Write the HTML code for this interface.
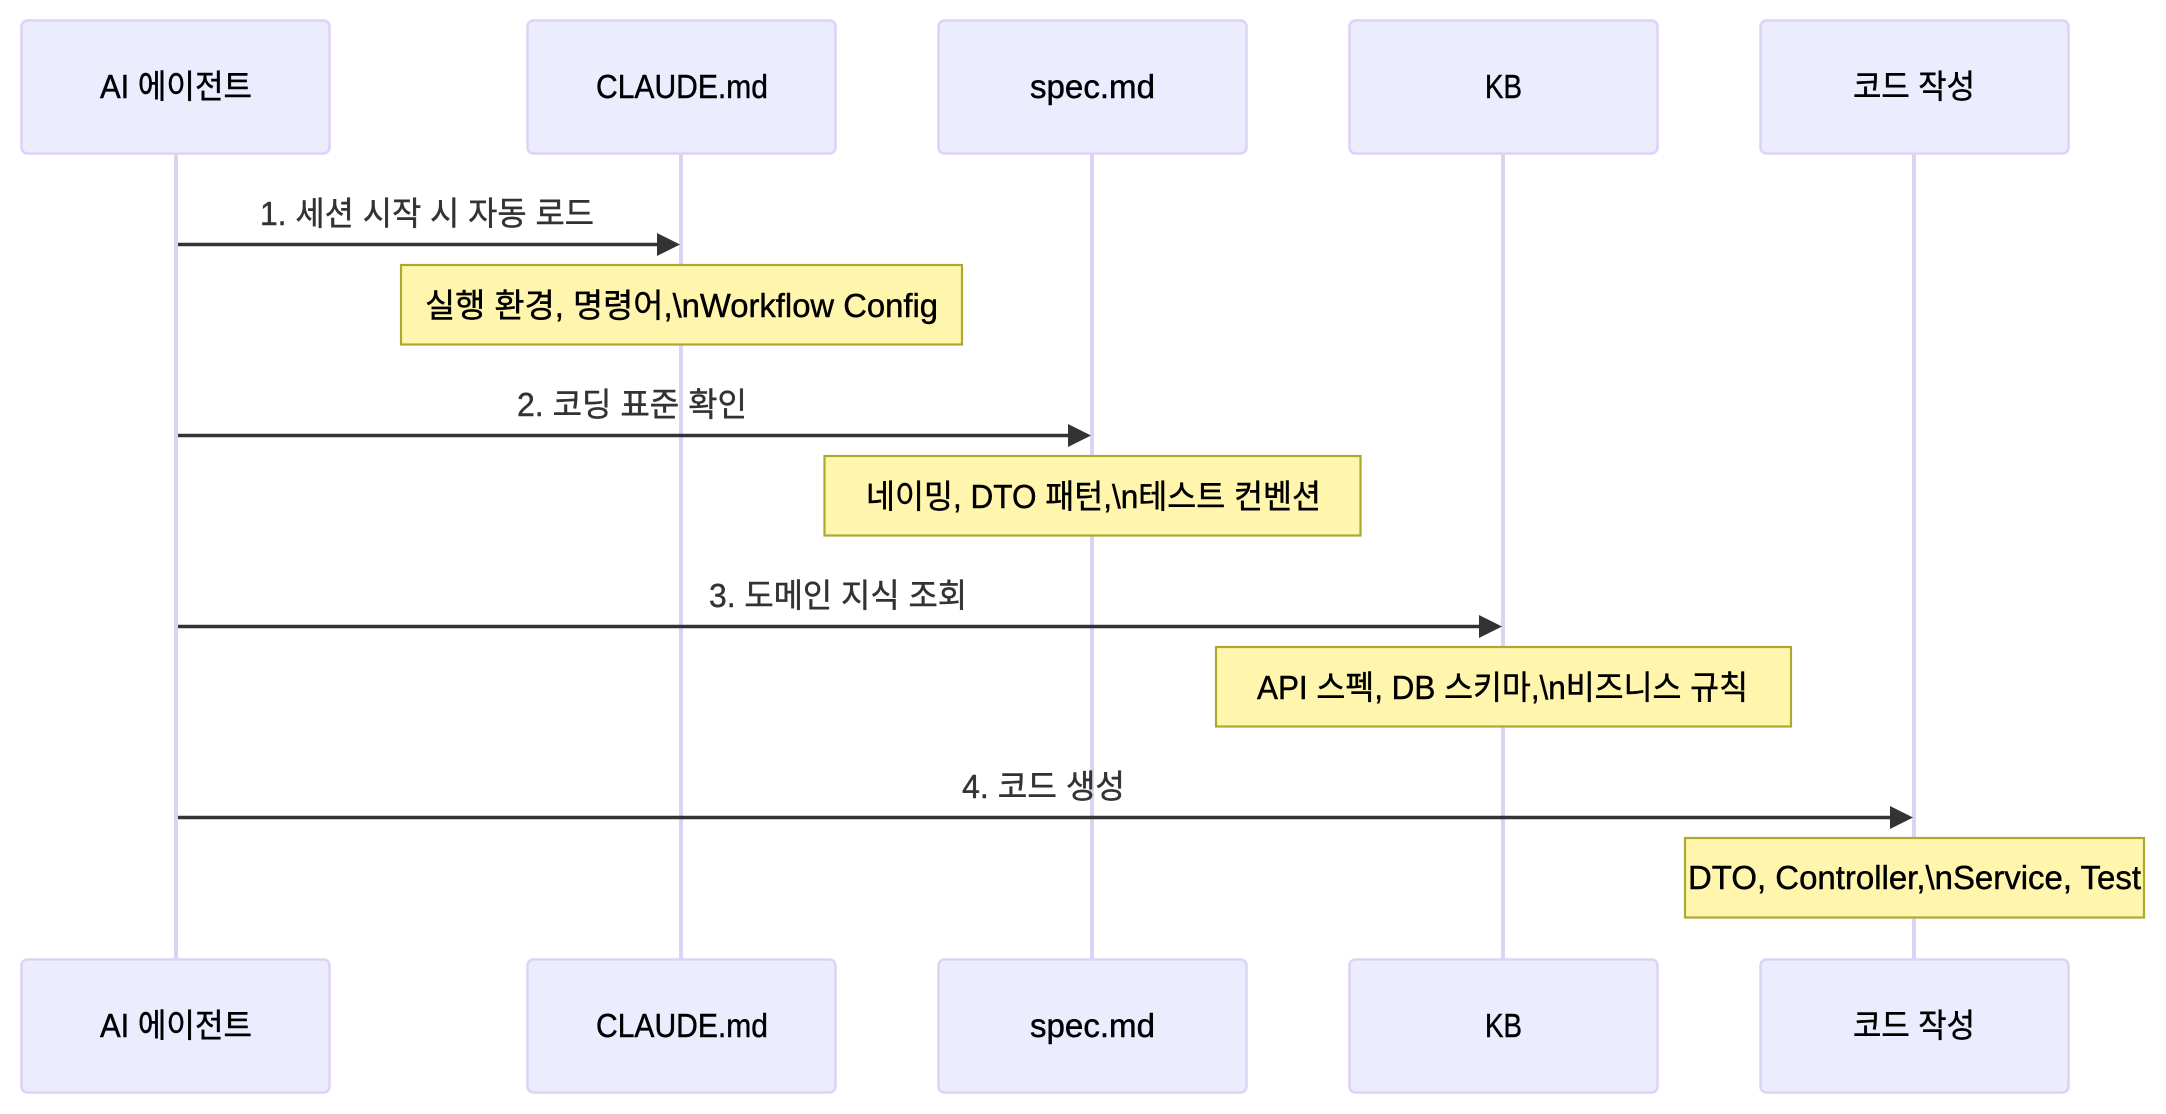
<!DOCTYPE html>
<html><head><meta charset="utf-8">
<style>
html,body{margin:0;padding:0;background:#fff;width:2166px;height:1114px;overflow:hidden}
svg{display:block}
text{font-family:"Liberation Sans","Noto Sans CJK KR",sans-serif;font-size:33px;stroke-width:.45px}
.a{fill:#000;stroke:#000}.m{fill:#333;stroke:#333}.n{fill:#000;stroke:#000}
.act{fill:#ECECFF;stroke:#DDD3F6;stroke-width:2.6}
.ll{stroke:#DCD2F5;stroke-width:4}
.note{fill:#FFF5AD;stroke:#AAAA33;stroke-width:2.2}
.msg{stroke:#333;stroke-width:3.4}
</style></head><body>
<svg width="2166" height="1114" viewBox="0 0 2166 1114" xmlns="http://www.w3.org/2000/svg">
<line class="ll" x1="176" y1="154" x2="176" y2="959"/>
<line class="ll" x1="681" y1="154" x2="681" y2="959"/>
<line class="ll" x1="1092" y1="154" x2="1092" y2="959"/>
<line class="ll" x1="1503" y1="154" x2="1503" y2="959"/>
<line class="ll" x1="1914" y1="154" x2="1914" y2="959"/>

<rect class="act" x="21.5" y="20.5" width="308" height="133" rx="6"/>
<rect class="act" x="527.5" y="20.5" width="308" height="133" rx="6"/>
<rect class="act" x="938.5" y="20.5" width="308" height="133" rx="6"/>
<rect class="act" x="1349.5" y="20.5" width="308" height="133" rx="6"/>
<rect class="act" x="1760.5" y="20.5" width="308" height="133" rx="6"/>

<rect class="act" x="21.5" y="959.5" width="308" height="133" rx="6"/>
<rect class="act" x="527.5" y="959.5" width="308" height="133" rx="6"/>
<rect class="act" x="938.5" y="959.5" width="308" height="133" rx="6"/>
<rect class="act" x="1349.5" y="959.5" width="308" height="133" rx="6"/>
<rect class="act" x="1760.5" y="959.5" width="308" height="133" rx="6"/>

<text class="a" x="100" y="98" textLength="152" lengthAdjust="spacingAndGlyphs">AI 에이전트</text>
<text class="a" x="596" y="98" textLength="172" lengthAdjust="spacingAndGlyphs">CLAUDE.md</text>
<text class="a" x="1030" y="98" textLength="125" lengthAdjust="spacingAndGlyphs">spec.md</text>
<text class="a" x="1485" y="98" textLength="37" lengthAdjust="spacingAndGlyphs">KB</text>
<text class="a" x="1853" y="98" textLength="122" lengthAdjust="spacingAndGlyphs">코드 작성</text>

<text class="a" x="100" y="1037" textLength="152" lengthAdjust="spacingAndGlyphs">AI 에이전트</text>
<text class="a" x="596" y="1037" textLength="172" lengthAdjust="spacingAndGlyphs">CLAUDE.md</text>
<text class="a" x="1030" y="1037" textLength="125" lengthAdjust="spacingAndGlyphs">spec.md</text>
<text class="a" x="1485" y="1037" textLength="37" lengthAdjust="spacingAndGlyphs">KB</text>
<text class="a" x="1853" y="1037" textLength="122" lengthAdjust="spacingAndGlyphs">코드 작성</text>

<line class="msg" x1="178" y1="244.5" x2="660" y2="244.5"/>
<polygon fill="#333" points="657,233 680,244.5 657,256"/>
<line class="msg" x1="178" y1="435.5" x2="1071" y2="435.5"/>
<polygon fill="#333" points="1068,424 1091,435.5 1068,447"/>
<line class="msg" x1="178" y1="626.5" x2="1482" y2="626.5"/>
<polygon fill="#333" points="1479,615 1502,626.5 1479,638"/>
<line class="msg" x1="178" y1="817.5" x2="1893" y2="817.5"/>
<polygon fill="#333" points="1890,806 1913,817.5 1890,829"/>

<text class="m" x="260" y="225" textLength="334" lengthAdjust="spacingAndGlyphs">1. 세션 시작 시 자동 로드</text>
<text class="m" x="517" y="416" textLength="230" lengthAdjust="spacingAndGlyphs">2. 코딩 표준 확인</text>
<text class="m" x="709" y="607" textLength="258" lengthAdjust="spacingAndGlyphs">3. 도메인 지식 조회</text>
<text class="m" x="962" y="798" textLength="163" lengthAdjust="spacingAndGlyphs">4. 코드 생성</text>

<rect class="note" x="401" y="265" width="561" height="79.5"/>
<rect class="note" x="824.5" y="456" width="536" height="79.5"/>
<rect class="note" x="1216" y="647" width="575" height="79.5"/>
<rect class="note" x="1685" y="838" width="459" height="79.5"/>

<text class="n" x="425" y="317" textLength="513" lengthAdjust="spacingAndGlyphs">실행 환경, 명령어,\nWorkflow Config</text>
<text class="n" x="866" y="508" textLength="455" lengthAdjust="spacingAndGlyphs">네이밍, DTO 패턴,\n테스트 컨벤션</text>
<text class="n" x="1257" y="699" textLength="491" lengthAdjust="spacingAndGlyphs">API 스펙, DB 스키마,\n비즈니스 규칙</text>
<text class="n" x="1688" y="889" textLength="453" lengthAdjust="spacingAndGlyphs">DTO, Controller,\nService, Test</text>
</svg>
</body></html>
